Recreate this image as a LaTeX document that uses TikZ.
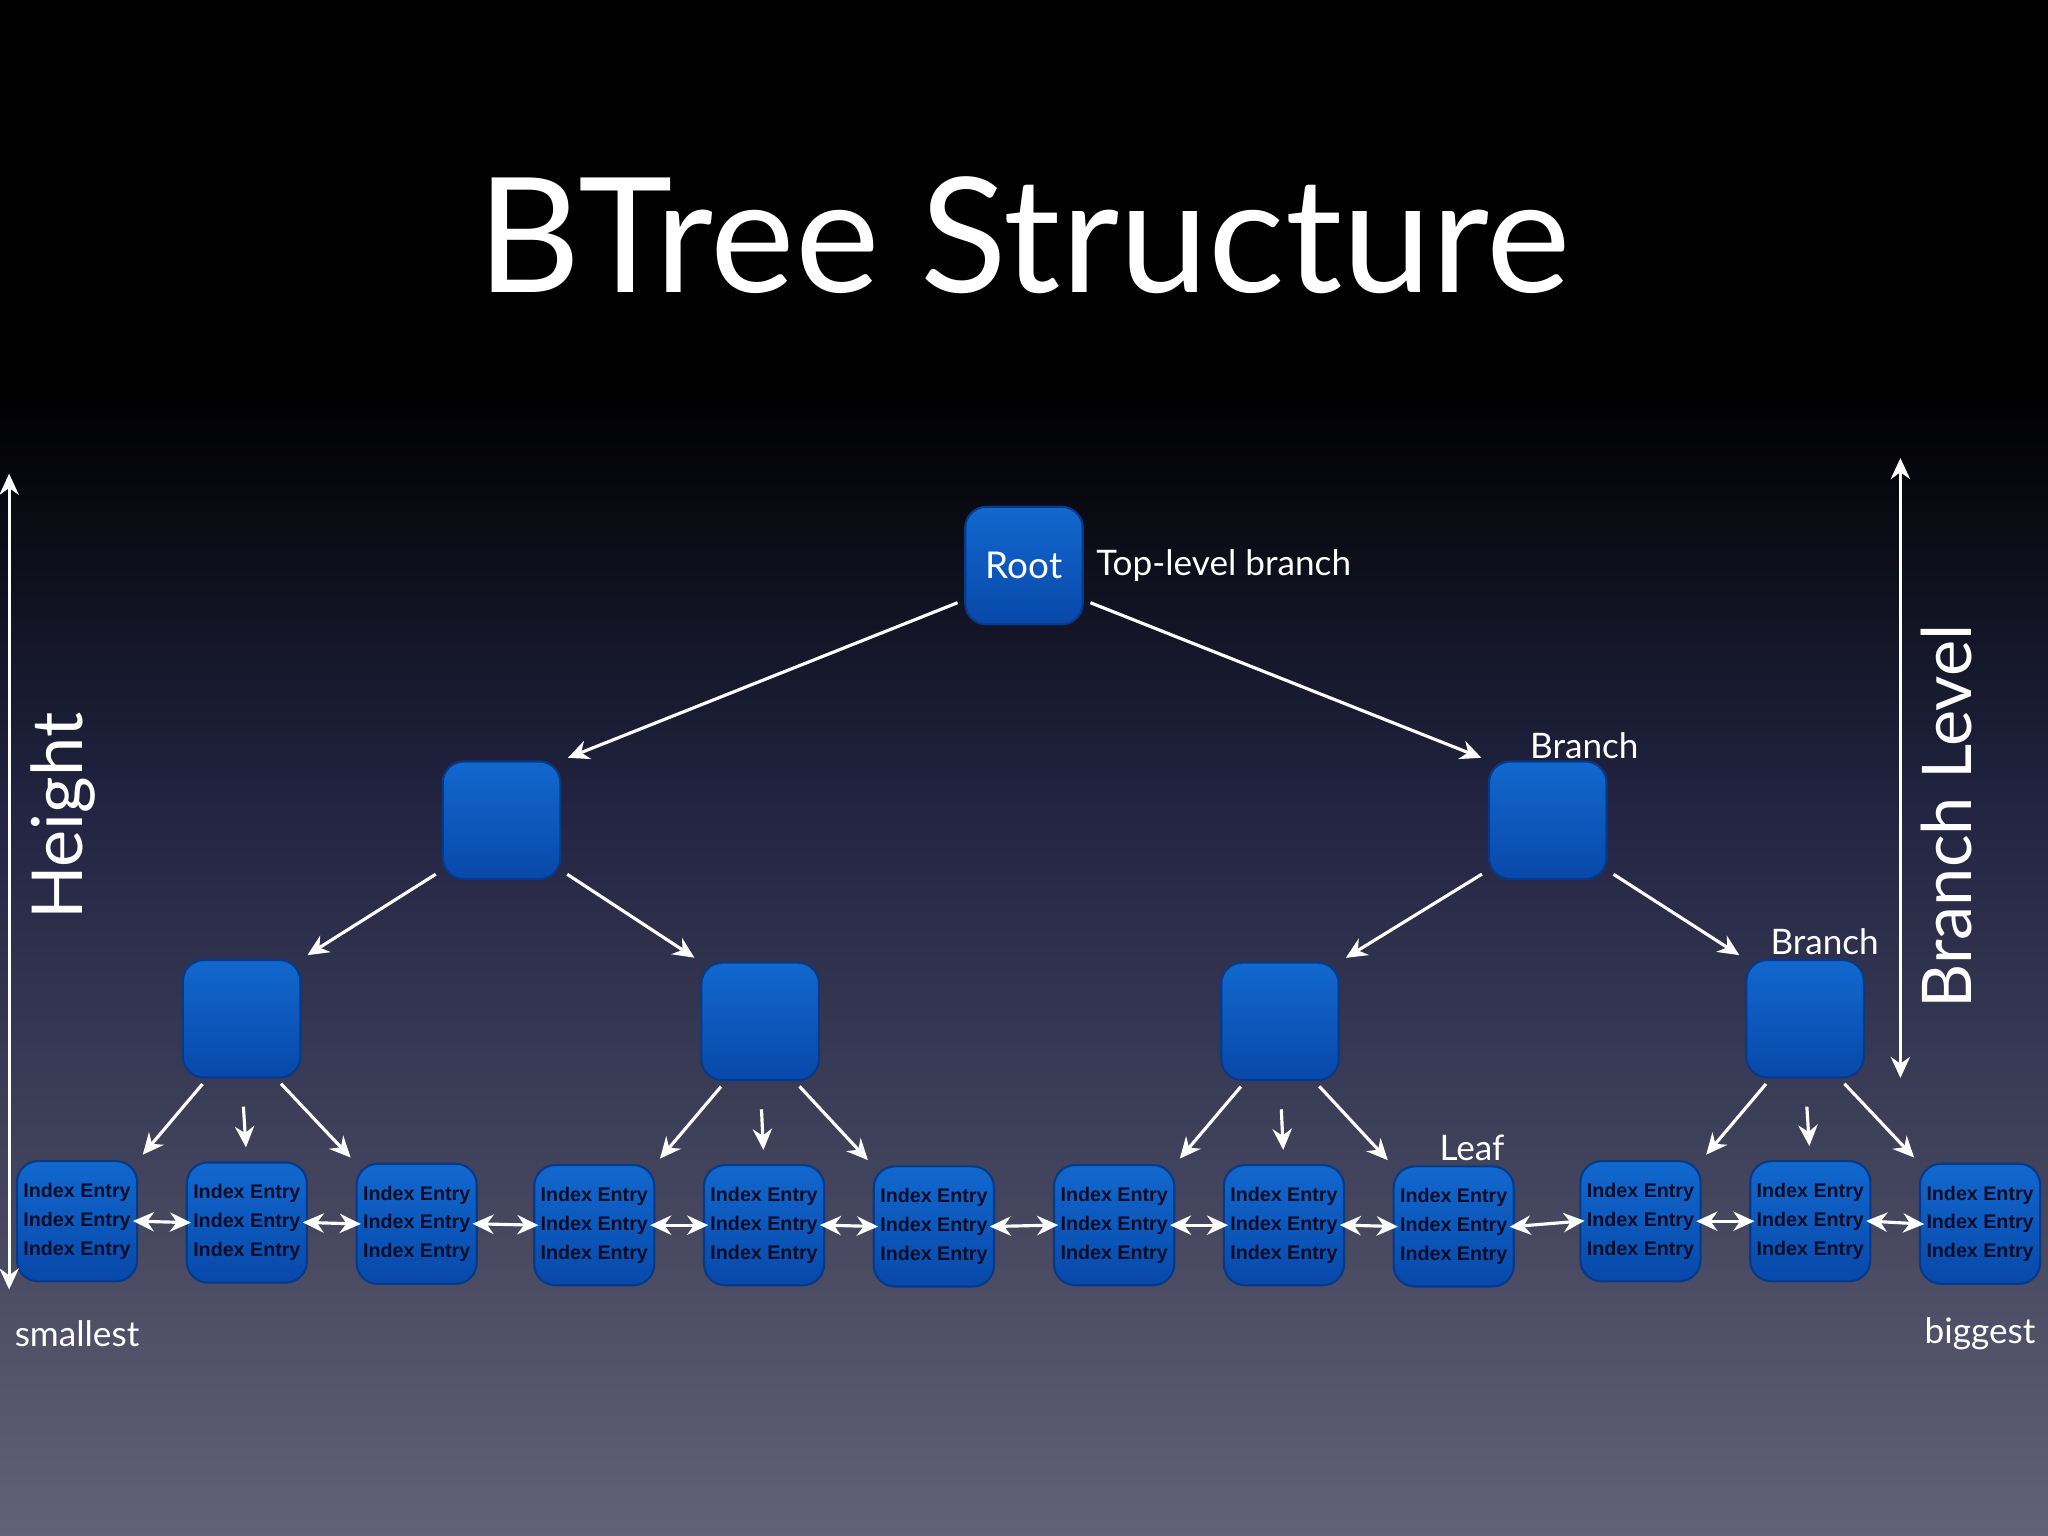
\documentclass[tikz,border=0pt]{standalone}
\usepackage{fontspec}
\setmainfont{Lato}
\newfontfamily\leaffont{Liberation Sans}
\usetikzlibrary{arrows.meta}
\definecolor{nodeA}{RGB}{18,104,206}
\definecolor{nodeB}{RGB}{8,72,170}
\definecolor{bgbot}{RGB}{98,97,118}
\definecolor{bgmid}{RGB}{34,36,66}
\definecolor{txtdark}{RGB}{8,14,40}
\begin{document}
\begin{tikzpicture}[x=0.013061cm,y=-0.013061cm,
  blk/.style={inner sep=0pt,
    top color=nodeA,bottom color=nodeB,draw=nodeB!80!black,line width=0.6pt},
  br/.style={blk,minimum width=0.013061cm*90,minimum height=0.013061cm*90,rounded corners=6pt},
  leaf/.style={blk,minimum width=0.013061cm*92,minimum height=0.013061cm*92,rounded corners=6pt,
    text=txtdark,font=\leaffont\bfseries\fontsize{5.6}{8.2}\selectfont,align=center},
  arr/.style={white,line width=0.9pt,-{Stealth[length=6pt,width=5.5pt]},shorten <=2pt,shorten >=2pt},
  darr/.style={white,line width=0.9pt,{Stealth[length=6pt,width=5.5pt]}-{Stealth[length=6pt,width=5.5pt]},shorten <=1pt,shorten >=1pt},
  lbl/.style={text=white,font=\fontsize{10}{12}\selectfont}]
\useasboundingbox (0,0) rectangle (1568,1176);
\fill[black] (0,0) rectangle (1568,300);
\shade[top color=black,bottom color=bgmid] (0,299) rectangle (1568,620);
\shade[top color=bgmid,bottom color=bgbot] (0,619) rectangle (1568,1176);
\node[text=white,font=\fontsize{45.5}{52}\selectfont] (title) at (784,180) {BTree Structure};
% tree
\node[br,text=white,font=\fontsize{10.5}{12}\selectfont] (root) at (784,433) {Root};
\node[br] (b1) at (384,628) {};
\node[br] (b2) at (1185,628) {};
\node[br] (c1) at (185,780) {};
\node[br] (c2) at (582,782) {};
\node[br] (c3) at (980,782) {};
\node[br] (c4) at (1382,780) {};
\foreach \i/\x/\y in {1/59/935,2/189/936,3/319/937,4/455/938,5/585/938,6/715/939,7/853/938,8/983/938,9/1113/939,10/1256/935,11/1386/935,12/1516/937}
  \node[leaf] (l\i) at (\x,\y) {Index Entry\\Index Entry\\Index Entry};
\draw[arr] (root.-150) -- (b1.north east);
\draw[arr] (root.-30) -- (b2.north west);
\draw[arr] (b1.-140) -- (c1.north east);
\draw[arr] (b1.-40) -- (c2.north west);
\draw[arr] (b2.-140) -- (c3.north east);
\draw[arr] (b2.-40) -- (c4.north west);
\foreach \c/\a/\b/\d in {c1/l1/l2/l3,c2/l4/l5/l6,c3/l7/l8/l9,c4/l10/l11/l12}{
  \draw[arr] (\c.-120) -- (\a.north east);
  \draw[arr,shorten <=8pt,shorten >=4pt] (\c.south) -- (\b.north);
  \draw[arr] (\c.-60) -- (\d.north west);
}
\foreach \i [evaluate=\i as \j using int(\i+1)] in {1,...,11}
  \draw[darr,shorten <=-1.5pt,shorten >=-1.5pt] (l\i.east) -- (l\j.west);
% labels
\node[lbl,anchor=west] (tl) at (root.east) {Top-level branch};
\node[lbl] (lb1) at (1213,571) {Branch};
\node[lbl] (lb2) at (1397,721) {Branch};
\node[lbl] (lleaf) at (1127,879) {Leaf};
\node[lbl] (sm) at (59,1021) {smallest};
\node[lbl] (bg) at (1516,1021) {biggest};
\node[text=white,font=\fontsize{20}{24}\selectfont,rotate=90] (h) at (48,625) {Height};
\node[text=white,font=\fontsize{19.5}{24}\selectfont,rotate=90] (bl) at (1490,625) {Branch Level};
\coordinate (h1) at (7,360); \coordinate (h2) at (7,990);
\coordinate (b1t) at (1455,348); \coordinate (b1b) at (1455,828);
\draw[darr] (h1) -- (h2);
\draw[darr] (b1t) -- (b1b);
\end{tikzpicture}
\end{document}
